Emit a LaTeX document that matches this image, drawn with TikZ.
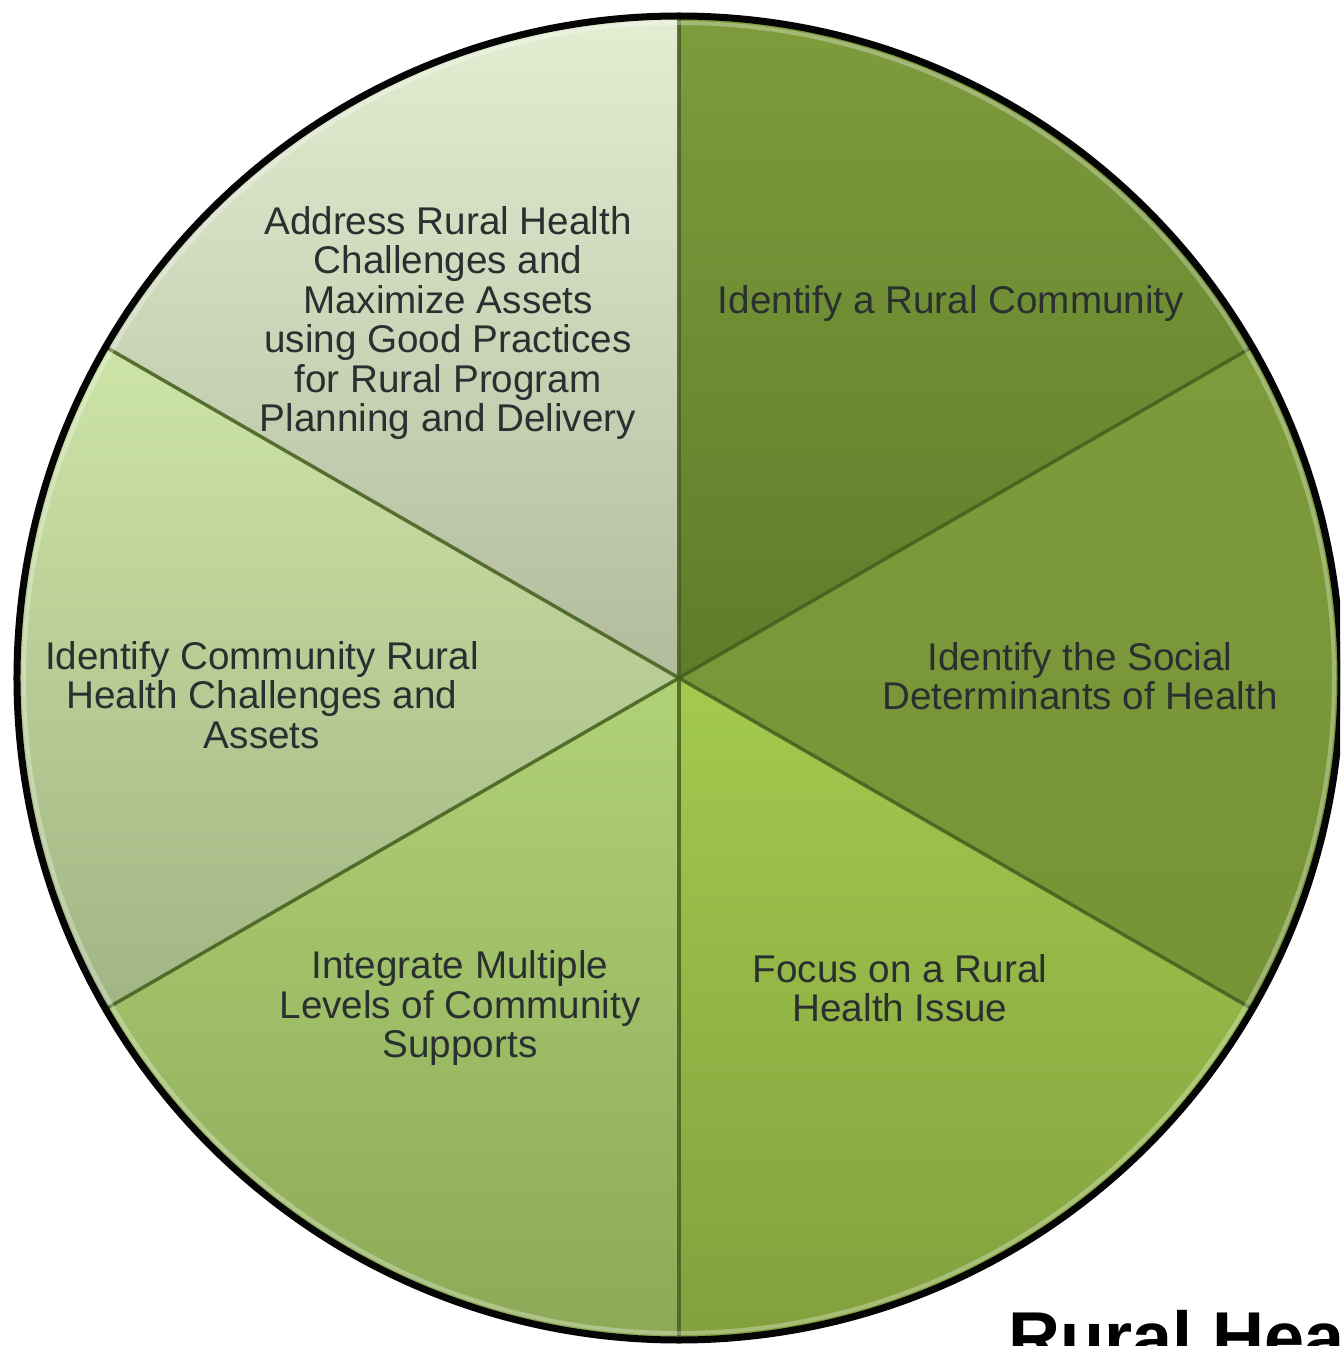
\documentclass[tikz,border=0pt]{standalone}
\usepackage{fontspec}
\setmainfont{Liberation Sans}
\usepackage{tikz}
\definecolor{TextGray}{HTML}{2A3030}
\definecolor{RimBlack}{HTML}{050505}
\definecolor{SepGreen}{HTML}{45601E}
\definecolor{OliveTop}{HTML}{7E9C3C}
\definecolor{OliveLow}{HTML}{5E7D2A}
\definecolor{LeafTop}{HTML}{7D9B3B}
\definecolor{LeafLow}{HTML}{769436}
\definecolor{LimeTop}{HTML}{A3CA4E}
\definecolor{LimeLow}{HTML}{82A03E}
\definecolor{FernTop}{HTML}{B0D276}
\definecolor{FernLow}{HTML}{8CA957}
\definecolor{SageTop}{HTML}{CDE4A6}
\definecolor{SageLow}{HTML}{A2B585}
\definecolor{MistTop}{HTML}{E3EDD2}
\definecolor{MistLow}{HTML}{B2BB9C}

\begin{document}
\begin{tikzpicture}[
    x=0.02cm, y=0.02cm,
    font=\fontsize{22}{22.4}\selectfont,
    steplabel/.style={align=center, text=TextGray, inner sep=0pt},
    divider/.style={draw=SepGreen, line width=0.07cm, opacity=0.85},
    rim/.style={draw=RimBlack, line width=0.14cm},
    heading/.style={font=\fontsize{41}{41}\selectfont\bfseries, text=black, inner sep=0pt, anchor=base west}
]
\useasboundingbox (-679,678) rectangle (661,-668);
\clip (-679,678) rectangle (661,-668);

% pie slices, clockwise from the top
\foreach \from/\to/\ctop/\clow in {90/30/OliveTop/OliveLow, 30/-30/LeafTop/LeafLow,
    -30/-90/LimeTop/LimeLow, -90/-150/FernTop/FernLow,
    -150/-210/SageTop/SageLow, 150/90/MistTop/MistLow}
  \fill[top color=\ctop, bottom color=\clow]
    (0,0) -- (\from:662) arc[start angle=\from, end angle=\to, radius=662] -- cycle;

\foreach \ang in {90,30,-30,-90,-150,150}
  \draw[divider] (0,0) -- (\ang:660);

\draw[white, opacity=0.3, line width=0.08cm] (0,0) circle[radius=655];
\draw[rim] (0,0) circle[radius=662];

\node[steplabel] (community) at (272,374) {Identify a Rural Community};
\node[steplabel] (social) at (401,2) {Identify the Social\\Determinants of Health};
\node[steplabel] (issue) at (221,-310) {Focus on a Rural\\Health Issue};
\node[steplabel] (supports) at (-219,-330) {Integrate Multiple\\Levels of Community\\Supports};
\node[steplabel] (challenges) at (-417,-17) {Identify Community Rural\\Health Challenges and\\Assets};
\node[steplabel] (practices) at (-231,355) {Address Rural Health\\Challenges and\\Maximize Assets\\using Good Practices\\for Rural Program\\Planning and Delivery};

\node[heading] (title) at (329,-684) {Rural Hea};
\end{tikzpicture}
\end{document}
